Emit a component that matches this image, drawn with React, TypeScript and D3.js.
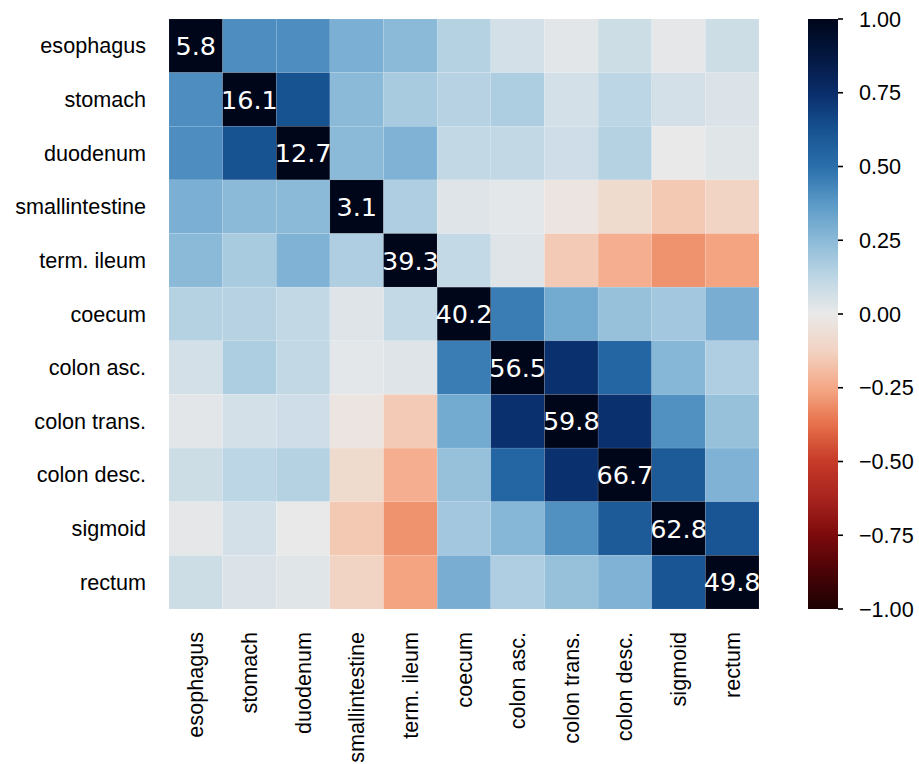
import React from "react";
import * as d3 from "d3";

const categories = [
  "esophagus", "stomach", "duodenum", "smallintestine", "term. ileum", "coecum",
  "colon asc.", "colon trans.", "colon desc.", "sigmoid", "rectum",
];

// correlation matrix (symmetric), rows in category order
const corrRows: number[][] = [
  [1.0, 0.41, 0.41, 0.29, 0.25, 0.145, 0.06, 0.02, 0.08, 0.01, 0.08],
  [0.41, 1.0, 0.625, 0.25, 0.175, 0.14, 0.165, 0.06, 0.125, 0.06, 0.04],
  [0.41, 0.625, 1.0, 0.25, 0.28, 0.11, 0.11, 0.077, 0.145, 0.0, 0.025],
  [0.29, 0.25, 0.25, 1.0, 0.16, 0.03, 0.015, -0.03, -0.085, -0.155, -0.12],
  [0.25, 0.175, 0.28, 0.16, 1.0, 0.105, 0.03, -0.15, -0.23, -0.3, -0.26],
  [0.145, 0.14, 0.11, 0.03, 0.105, 1.0, 0.458, 0.31, 0.22, 0.19, 0.295],
  [0.06, 0.165, 0.11, 0.015, 0.03, 0.458, 1.0, 0.74, 0.54, 0.26, 0.16],
  [0.02, 0.06, 0.077, -0.03, -0.15, 0.31, 0.74, 1.0, 0.74, 0.4, 0.22],
  [0.08, 0.125, 0.145, -0.085, -0.23, 0.22, 0.54, 0.74, 1.0, 0.59, 0.28],
  [0.01, 0.06, 0.0, -0.155, -0.3, 0.19, 0.26, 0.4, 0.59, 1.0, 0.61],
  [0.08, 0.04, 0.025, -0.12, -0.26, 0.295, 0.16, 0.22, 0.28, 0.61, 1.0],
];

// diagonal annotations
const diagLabels = ["5.8", "16.1", "12.7", "3.1", "39.3", "40.2", "56.5", "59.8", "66.7", "62.8", "49.8"];

const colorbarTicks = [1, 0.75, 0.5, 0.25, 0, -0.25, -0.5, -0.75, -1];

const cmapStops = [-1, -0.875, -0.75, -0.625, -0.5, -0.375, -0.25, -0.125, 0, 0.125, 0.25, 0.375, 0.5, 0.625, 0.75, 0.875, 1];
const cmapColors = [
  "#1c0102", "#4a0306", "#7c0a0c", "#a8241e", "#c63a28", "#e6704a", "#f5a886", "#f2d3c2",
  "#e9e9e9", "#bdd6e5", "#8bbad8", "#5a99c7", "#2a6fab", "#175291", "#0a2d6b", "#03173f", "#00061a",
];

const W = 919, H = 764;
const left = 169, top = 19, size = 590;
const cbX = 808, cbW = 30;
const FONT = "'Liberation Sans', Arial, sans-serif";

export default function App() {
  const color = d3.scaleLinear<string>().domain(cmapStops).range(cmapColors).interpolate(d3.interpolateRgb).clamp(true);
  const x = d3.scaleBand<string>().domain(categories).range([left, left + size]);
  const y = d3.scaleBand<string>().domain(categories).range([top, top + size]);
  const cbY = d3.scaleLinear().domain([-1, 1]).range([top + size, top]);
  const bw = x.bandwidth();
  const bh = y.bandwidth();
  const gradStops = d3.range(0, 101).map((i) => -1 + (2 * i) / 100);

  return (
    <svg width={W} height={H} style={{ position: "absolute", left: 0, top: 0, background: "#fff" }}>
      <defs>
        <linearGradient id="cb" x1="0" y1="1" x2="0" y2="0">
          {gradStops.map((v, i) => (
            <stop key={i} offset={`${i}%`} stopColor={color(v)} />
          ))}
        </linearGradient>
      </defs>
      <rect x={0} y={0} width={W} height={H} fill="#fff" />
      {corrRows.map((row, i) =>
        row.map((v, j) => (
          <rect
            key={`${i}-${j}`}
            x={x(categories[j])}
            y={y(categories[i])}
            width={bw}
            height={bh}
            fill={color(v)}
            stroke="rgba(255,255,255,0.14)"
            strokeWidth={0.6}
          />
        ))
      )}
      {diagLabels.map((t, i) => (
        <text
          key={`a${i}`}
          x={(x(categories[i]) as number) + bw / 2}
          y={(y(categories[i]) as number) + bh / 2}
          dy="0.36em"
          textAnchor="middle"
          fill="#fff"
          fontFamily="'DejaVu Sans', sans-serif"
          fontSize={25.5}
        >
          {t}
        </text>
      ))}
      {categories.map((c) => (
        <text
          key={`y${c}`}
          x={146}
          y={(y(c) as number) + bh / 2}
          dy="0.35em"
          textAnchor="end"
          fontFamily={FONT}
          fontSize={21.6}
          fill="#000"
        >
          {c}
        </text>
      ))}
      {categories.map((c) => {
        const cx = (x(c) as number) + bw / 2;
        return (
          <text
            key={`x${c}`}
            transform={`translate(${cx},632) rotate(-90)`}
            dy="0.35em"
            textAnchor="end"
            fontFamily={FONT}
            fontSize={21.6}
            fill="#000"
          >
            {c}
          </text>
        );
      })}
      <rect x={cbX} y={top} width={cbW} height={size} fill="url(#cb)" />
      {colorbarTicks.map((t) => (
        <g key={`t${t}`}>
          <line x1={cbX + cbW} x2={cbX + cbW + 5} y1={cbY(t)} y2={cbY(t)} stroke="#000" strokeWidth={1.6} />
          <text
            x={859}
            y={cbY(t)}
            dy="0.35em"
            fontFamily={FONT}
            fontSize={21.6}
            fill="#000"
          >
            {(t < 0 ? "\u2212" : "") + Math.abs(t).toFixed(2)}
          </text>
        </g>
      ))}
    </svg>
  );
}
